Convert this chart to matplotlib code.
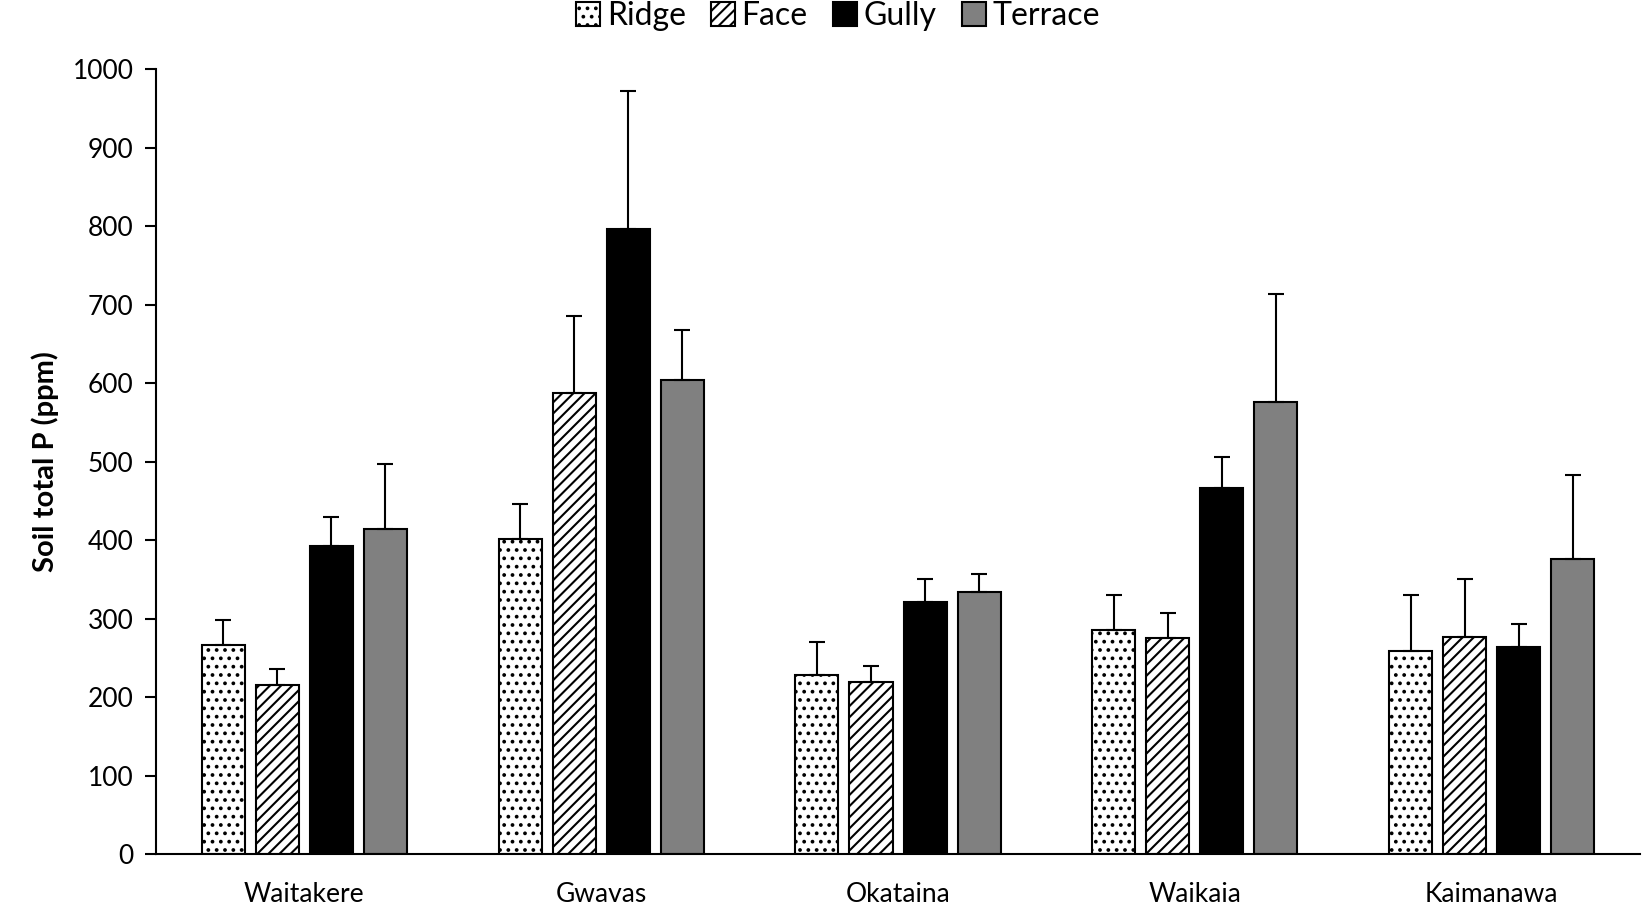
import numpy as np
import matplotlib
matplotlib.use("Agg")
import matplotlib.pyplot as plt

sites = ["Waitakere", "Gwavas", "Okataina", "Waikaia", "Kaimanawa"]
positions = ["Ridge", "Face", "Gully", "Terrace"]

# mean soil total P (ppm) per site, one list per slope position
ridge = [267, 401, 228, 286, 259]
face = [215, 588, 219, 275, 276]
gully = [392, 797, 321, 467, 264]
terrace = [414, 604, 334, 576, 376]

# upper error (SE) above each mean
ridge_err = [31, 45, 42, 44, 71]
face_err = [21, 98, 20, 32, 74]
gully_err = [38, 175, 29, 39, 29]
terrace_err = [83, 64, 23, 138, 107]

means = [ridge, face, gully, terrace]
errs = [ridge_err, face_err, gully_err, terrace_err]
colors = ["white", "white", "black", "#808080"]
hatches = ["..", "///", None, None]

plt.rcParams['font.family'] = ['Lato', 'DejaVu Sans']
plt.rcParams['hatch.linewidth'] = 1.5

fig = plt.figure(figsize=(16.5, 9.24), dpi=100)
ax = fig.add_axes([0.0945, 0.0758, 0.8995, 0.849])

x = np.arange(len(sites))
width = 0.145
step = 0.182
for i, name in enumerate(positions):
    off = (i - 1.5) * step
    ax.bar(x + off, means[i], width, color=colors[i], edgecolor="black",
           linewidth=1.5, hatch=hatches[i], label=name,
           yerr=[np.zeros(len(sites)), errs[i]], capsize=6,
           error_kw=dict(ecolor="black", elinewidth=1.5, capthick=1.5))

ax.set_xlim(-0.5, 4.5)
ax.set_ylim(0, 1000)
ax.set_yticks(range(0, 1001, 100))
ax.set_xticks(x)
ax.set_xticklabels(sites, fontsize=19)
ax.tick_params(axis='x', length=0, pad=20)
ax.tick_params(axis='y', length=8, width=1.5, labelsize=19, pad=8)
ax.set_ylabel("Soil total P (ppm)", fontsize=21, fontweight="bold", labelpad=10)

for s in ["top", "right"]:
    ax.spines[s].set_visible(False)
ax.spines["left"].set_linewidth(1.5)
ax.spines["bottom"].set_linewidth(1.5)

handles, labels = ax.get_legend_handles_labels()
fig.legend(handles, labels, loc="upper center", bbox_to_anchor=(0.508, 1.03),
           ncol=4, frameon=False, fontsize=23, handlelength=0.75, handleheight=0.75,
           handletextpad=0.2, columnspacing=0.8)

fig.savefig("out.png", dpi=100)
